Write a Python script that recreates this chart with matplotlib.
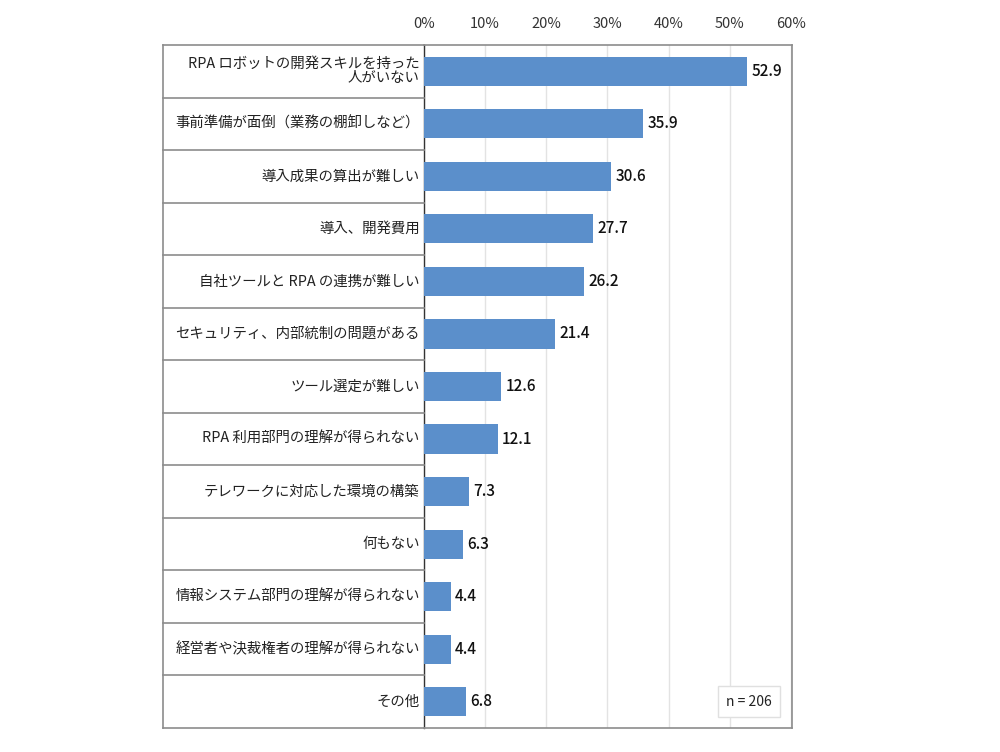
import numpy as np
import matplotlib.pyplot as plt
import matplotlib.transforms as mtransforms

plt.rcParams['font.family'] = ['Noto Sans CJK JP', 'DejaVu Sans']

# data
categories = [
    "RPA ロボットの開発スキルを持った\n人がいない",
    "事前準備が面倒（業務の棚卸しなど）",
    "導入成果の算出が難しい",
    "導入、開発費用",
    "自社ツールと RPA の連携が難しい",
    "セキュリティ、内部統制の問題がある",
    "ツール選定が難しい",
    "RPA 利用部門の理解が得られない",
    "テレワークに対応した環境の構築",
    "何もない",
    "情報システム部門の理解が得られない",
    "経営者や決裁権者の理解が得られない",
    "その他",
]
values = [52.9, 35.9, 30.6, 27.7, 26.2, 21.4, 12.6, 12.1, 7.3, 6.3, 4.4, 4.4, 6.8]
tick_values = [0, 10, 20, 30, 40, 50, 60]
tick_labels = ["0%", "10%", "20%", "30%", "40%", "50%", "60%"]
n_note = "n = 206"

fig = plt.figure(figsize=(10, 7.52), dpi=100)
ax = fig.add_axes([0.424, 1 - 728 / 752, 0.792 - 0.424, (728 - 45) / 752])

y = np.arange(len(categories))
ax.barh(y, values, height=0.555, color='#5B8FCB', zorder=3)
ax.set_xlim(0, 60.2)
ax.set_ylim(len(categories) - 0.5, -0.5)

ax.xaxis.tick_top()
ax.set_xticks(tick_values)
ax.set_xticklabels(tick_labels, fontsize=10.5, color='#333333')
ax.tick_params(axis='x', length=0, pad=10)
ax.set_yticks([])
ax.grid(axis='x', color='#E3E3E3', linewidth=1, zorder=0)

for s in ['top', 'right', 'bottom']:
    ax.spines[s].set_color('#8C8C8C')
    ax.spines[s].set_linewidth(1.2)
ax.spines['left'].set_color('#333333')
ax.spines['left'].set_linewidth(1)

# value labels
for yi, v in zip(y, values):
    ax.text(v + 0.7, yi, f"{v:.1f}", va='center', ha='left', fontsize=11,
            fontweight='medium', color='#111111')

# label column (table-like) to the left of the plot
trans = mtransforms.blended_transform_factory(ax.transAxes, ax.transData)
left_edge = (163 - 424) / (792 - 424)
for i in range(len(categories) + 1):
    ax.plot([left_edge, 0], [i - 0.5, i - 0.5], transform=trans, color='#8C8C8C',
            linewidth=1.2, clip_on=False, zorder=4)
ax.plot([left_edge, left_edge], [-0.5, len(categories) - 0.5], transform=trans,
        color='#8C8C8C', linewidth=1.2, clip_on=False)

for yi, c in zip(y, categories):
    ax.text(-0.012, yi, c, transform=trans, ha='right', va='center', fontsize=10.4,
            color='#222222', linespacing=1.0, multialignment='right')

ax.text(0.883, 12.0, n_note, transform=trans, ha='center', va='center', fontsize=10,
        color='#222222', bbox=dict(boxstyle='square,pad=0.6', fc='white', ec='#E0E0E0', lw=1),
        zorder=5)

fig.savefig('out.png', dpi=100)
